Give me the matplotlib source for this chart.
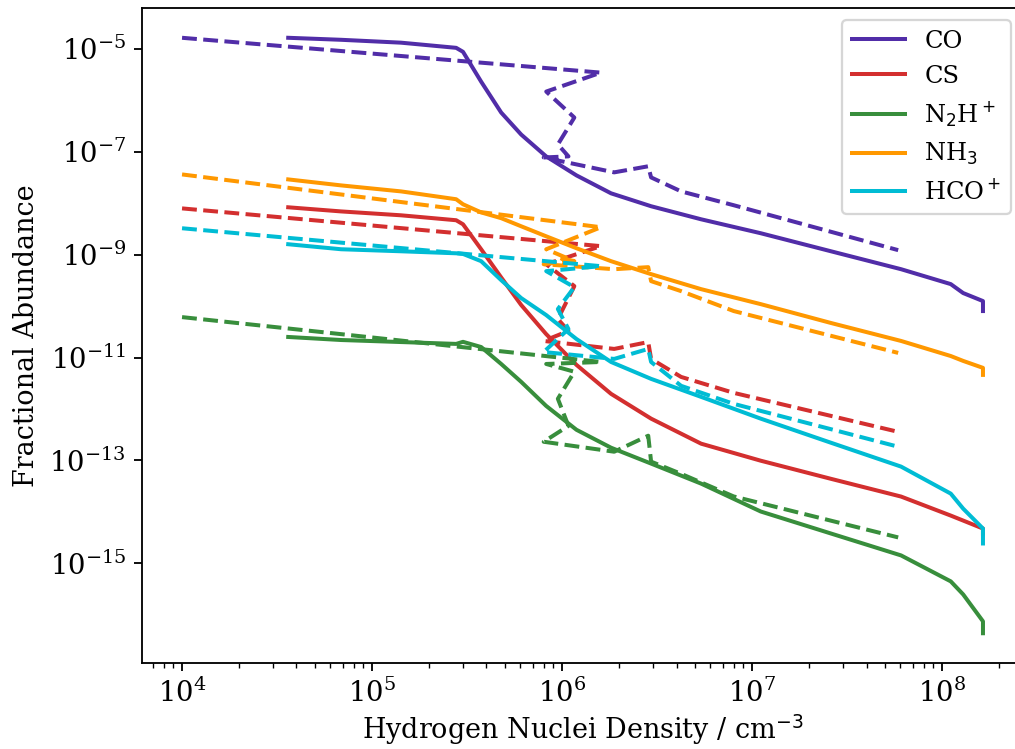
import numpy as np
import matplotlib
matplotlib.use('Agg')
import matplotlib.pyplot as plt

plt.rcParams['font.family'] = 'serif'
plt.rcParams['font.size'] = 10

# solid model: density track (cm^-3)
n_solid = [3.62e4, 6.87e4, 1.42e5, 2.77e5, 3.01e5, 3.75e5, 4.78e5, 6.09e5,
           8.24e5, 1.19e6, 1.81e6, 2.94e6, 5.39e6, 1.11e7, 2.60e7, 6.08e7,
           1.11e8, 1.29e8, 1.64e8, 1.64e8]
co_solid = [1.63e-5, 1.49e-5, 1.31e-5, 1.04e-5, 8.7e-6, 2.29e-6, 5.75e-7, 2.15e-7,
            8.1e-8, 3.46e-8, 1.55e-8, 8.7e-9, 4.85e-9, 2.6e-9, 1.16e-9, 5.2e-10,
            2.67e-10, 1.79e-10, 1.25e-10, 8.0e-11]
cs_solid = [8.3e-9, 6.9e-9, 5.8e-9, 4.65e-9, 3.88e-9, 1.27e-9, 3.6e-10, 1.05e-10,
            2.86e-11, 7.2e-12, 1.97e-12, 6.5e-13, 2.12e-13, 9.9e-14, 4.4e-14, 1.99e-14,
            8.5e-15, 6.8e-15, 4.76e-15, 3.81e-15]
n2hp_solid = [2.51e-11, 2.19e-11, 2.0e-11, 1.84e-11, 2.02e-11, 1.6e-11, 7.5e-12, 3.37e-12,
              1.15e-12, 3.95e-13, 1.77e-13, 8.7e-14, 3.55e-14, 1.02e-14, 3.81e-15, 1.43e-15,
              4.48e-16, 2.5e-16, 7.5e-17, 4.4e-17]
nh3_solid = [2.89e-8, 2.21e-8, 1.69e-8, 1.19e-8, 9.5e-9, 6.6e-9, 5.1e-9, 3.55e-9,
             2.27e-9, 1.33e-9, 7.45e-10, 4.17e-10, 2.13e-10, 1.09e-10, 4.69e-11, 2.1e-11,
             1.07e-11, 8.6e-12, 6.3e-12, 4.6e-12]
hcop_solid = [1.59e-9, 1.27e-9, 1.16e-9, 1.06e-9, 1.03e-9, 7.45e-10, 3.19e-10, 1.43e-10,
              6.7e-11, 2.29e-11, 8.2e-12, 3.85e-12, 1.72e-12, 6.5e-13, 2.21e-13, 7.6e-14,
              2.27e-14, 1.16e-14, 4.76e-15, 2.44e-15]

# dashed model: density track (goes back and forth near 1e6)
n_dash = [1.0e4, 1.6e6, 8.25e5, 1.16e6, 9.5e5, 1.08e6, 8.0e5, 1.88e6, 2.84e6,
          2.94e6, 4.23e6, 8.0e6, 5.87e7]
co_dash = [1.63e-5, 3.43e-6, 1.47e-6, 4.6e-7, 1.38e-7, 8.1e-8, 7.7e-8, 3.96e-8, 5.2e-8,
           3.16e-8, 1.69e-8, 9.1e-9, 1.22e-9]
cs_dash = [7.9e-9, 1.46e-9, 6.5e-10, 2.44e-10, 5.6e-11, 3.28e-11, 2.1e-11, 1.47e-11, 2.0e-11,
           9.4e-12, 4.2e-12, 2.06e-12, 3.6e-13]
n2hp_dash = [6.1e-11, 8.2e-12, 7.5e-12, 5.3e-12, 1.58e-12, 4.7e-13, 2.31e-13, 1.48e-13, 3.03e-13,
             9.5e-14, 5.5e-14, 2.0e-14, 3.2e-15]
nh3_dash = [3.61e-8, 3.4e-9, 1.27e-9, 7.45e-10, 8.9e-10, 7.45e-10, 6.5e-10, 5.2e-10, 5.7e-10,
            3.05e-10, 1.95e-10, 8.0e-11, 1.23e-11]
hcop_dash = [3.25e-9, 5.96e-10, 4.77e-10, 2.33e-10, 8.75e-11, 3.58e-11, 1.28e-11, 9.4e-12, 1.47e-11,
             8.2e-12, 2.82e-12, 1.26e-12, 1.85e-13]

species = ['CO', 'CS', r'N$_2$H$^+$', r'NH$_3$', r'HCO$^+$']
colours = ['#512DA8', '#D32F2F', '#388E3C', '#FF9800', '#00BCD4']
solid = [co_solid, cs_solid, n2hp_solid, nh3_solid, hcop_solid]
dashed = [co_dash, cs_dash, n2hp_dash, nh3_dash, hcop_dash]

fig = plt.figure(figsize=(1015 / 165, 749 / 165), dpi=165)
ax = fig.add_axes([0.1399, 0.1148, 0.868, 0.8745])

for name, c, ys, yd in zip(species, colours, solid, dashed):
    ax.plot(n_solid, ys, color=c, lw=1.75, label=name)
    ax.plot(n_dash, yd, color=c, lw=1.75, ls='--')

ax.set_xscale('log')
ax.set_yscale('log')
ax.set_xlabel(r'Hydrogen Nuclei Density / cm$^{-3}$', fontsize=11.8, labelpad=2)
ax.set_ylabel('Fractional Abundance', fontsize=11.8)
ax.tick_params(labelsize=12)
ax.spines['right'].set_visible(False)
ax.legend(loc='upper right', handlelength=2.2, fontsize=10.5)

fig.savefig('out.png', dpi=165)
